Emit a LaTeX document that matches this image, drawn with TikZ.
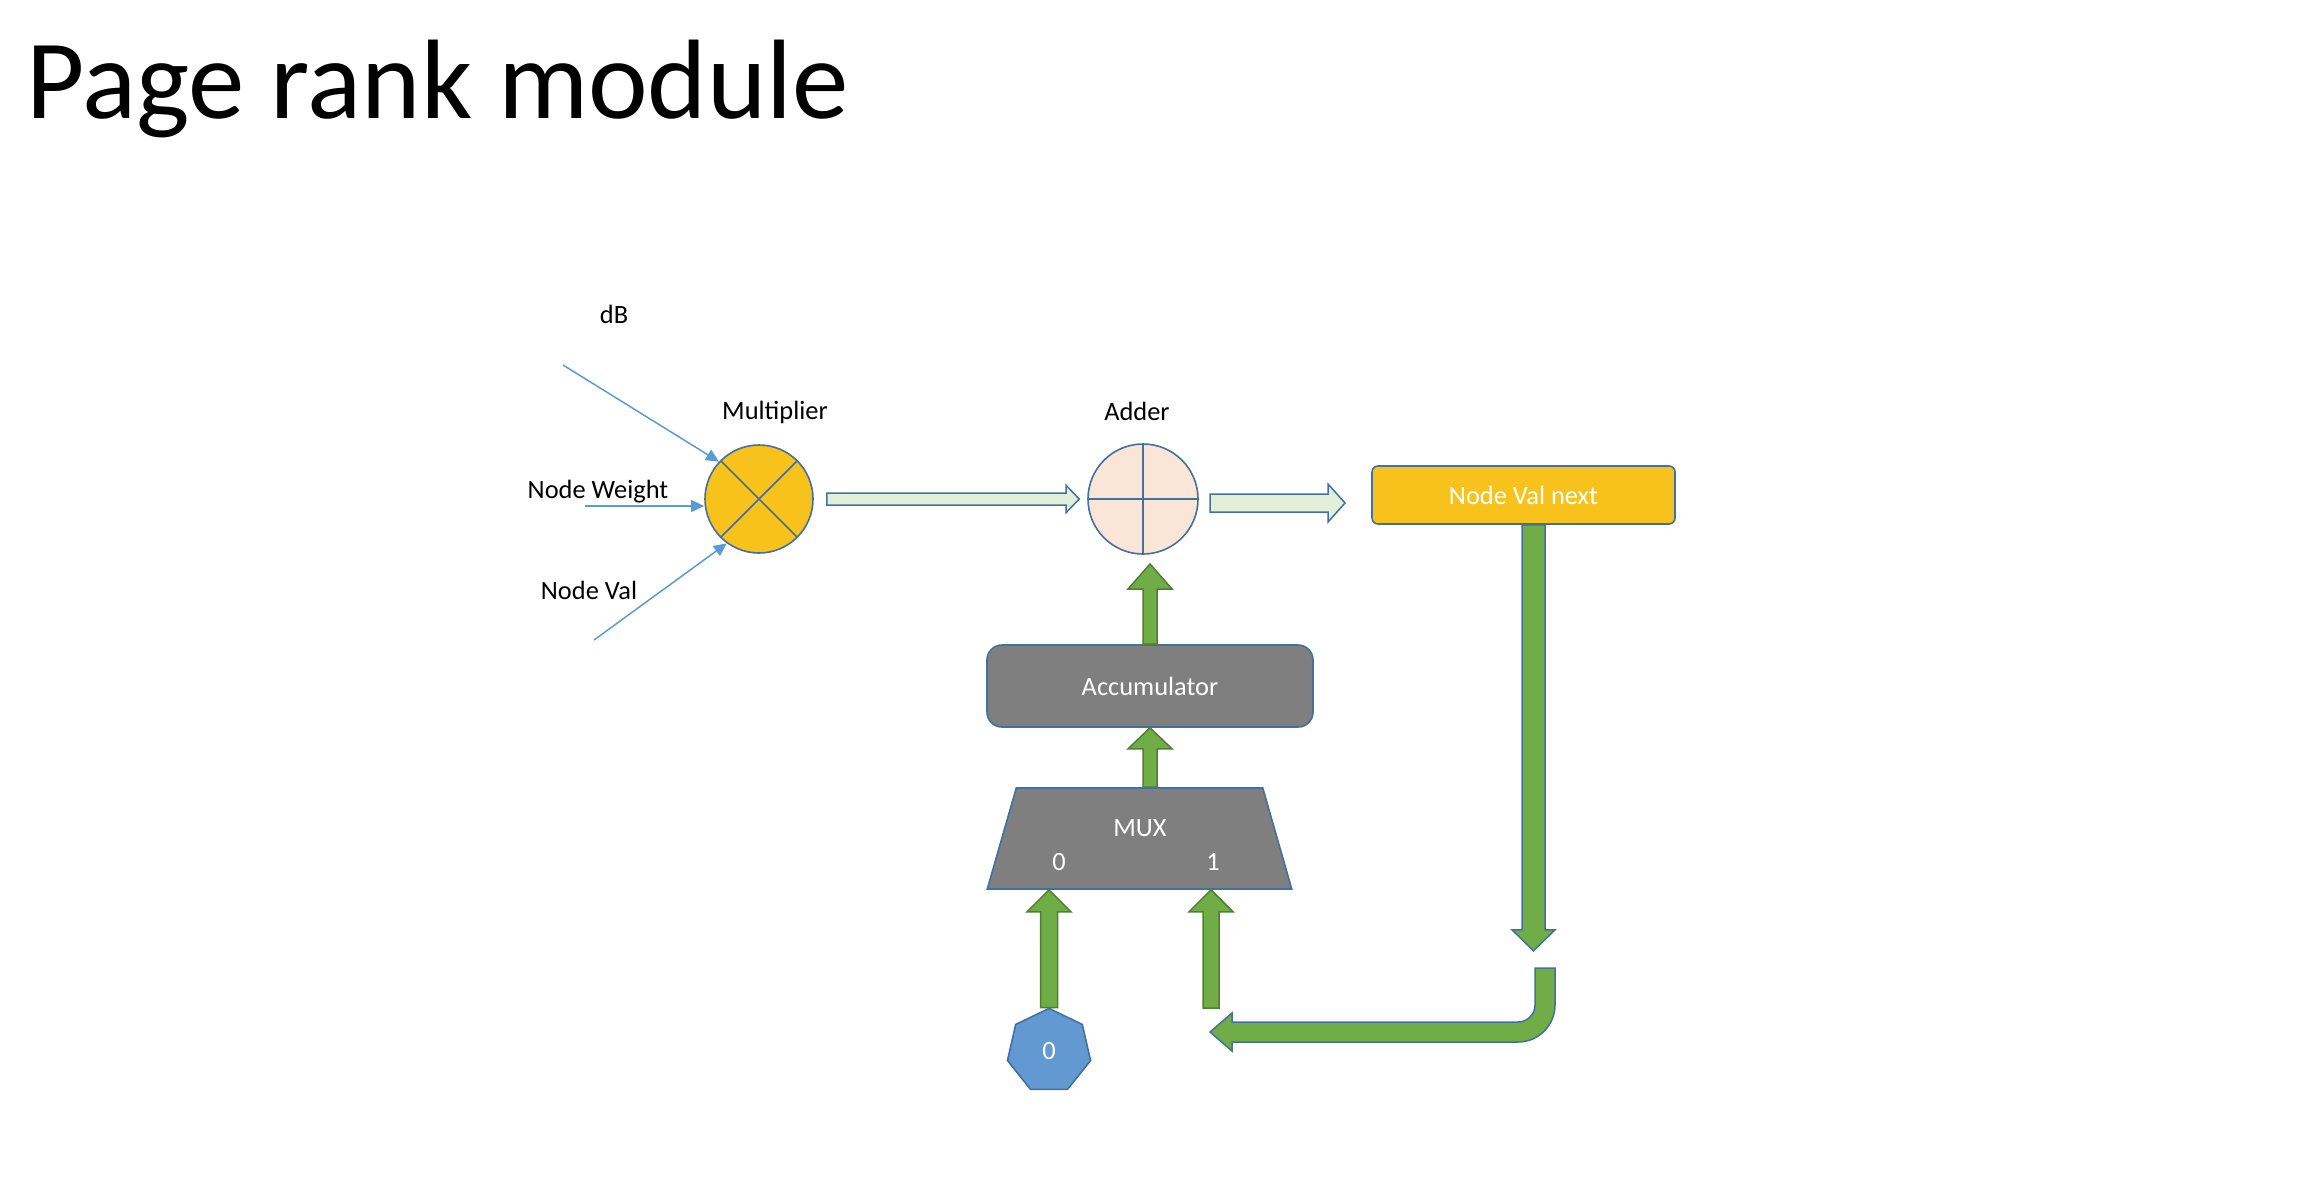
\documentclass[tikz,border=0pt]{standalone}
\usepackage{fontspec}
\setmainfont{Carlito}
\usetikzlibrary{shapes.geometric,arrows.meta,calc}
\definecolor{gold}{HTML}{F8C21C}
\definecolor{peach}{HTML}{FBE5D6}
\definecolor{mint}{HTML}{E2F0D9}
\definecolor{leaf}{HTML}{70AD47}
\definecolor{leafdark}{HTML}{507E32}
\definecolor{edge}{HTML}{41719C}
\definecolor{sky}{HTML}{6399D2}
\definecolor{wireblue}{HTML}{5B9BD5}
\definecolor{slate}{HTML}{7F7F7F}
% #1 style, #2 from, #3 to, #4 half shaft, #5 half head, #6 head length
\newcommand{\blockarrow}[6]{%
  \coordinate (ba) at ($(#3)!#6!(#2)$);
  \draw[#1] ($(#2)!#4!90:(#3)$) -- ($(ba)!#4!90:(#3)$) -- ($(ba)!#5!90:(#3)$) -- (#3)
    -- ($(ba)!#5!-90:(#3)$) -- ($(ba)!#4!-90:(#3)$) -- ($(#2)!#4!-90:(#3)$) -- cycle;
}
\begin{document}
\begin{tikzpicture}[x=0.5pt, y=-0.5pt,
    lbl/.style = {font=\fontsize{13.2}{15}\selectfont, inner sep=0, anchor=base},
    ring/.style = {draw=edge, line width=0.8pt, circle, inner sep=0},
    box/.style = {draw=edge, line width=0.8pt, fill=slate, text=white, font=\fontsize{13.2}{15}\selectfont},
    wire/.style = {draw=wireblue, line width=0.75pt, -{Triangle[length=6.5pt,width=6pt]}},
    hollow/.style = {draw=edge, line width=0.75pt, fill=mint},
    fat/.style = {draw=leafdark, line width=0.75pt, fill=leaf},
    fatb/.style = {draw=edge, line width=0.75pt, fill=leaf}]
  \useasboundingbox (0,0) rectangle (2310,1190);

  \node[font=\fontsize{56.5}{60}\selectfont, inner sep=0, anchor=base west] (title) at (26,118) {Page rank module};

  \node[ring, fill=gold, minimum size=54pt] (mul) at (759,499) {};
  \node[ring, fill=peach, minimum size=55pt] (add) at (1143,499) {};
  \draw[edge, line width=0.8pt] (mul.north west) -- (mul.south east) (mul.north east) -- (mul.south west);
  \draw[edge, line width=0.8pt] (add.north) -- (add.south) (add.west) -- (add.east);
  \node[box, fill=gold, rounded corners=3pt, minimum width=151.5pt, minimum height=29pt] (next) at (1523.5,495) {Node Val next};
  \node[box, rounded corners=7.5pt, minimum width=163pt, minimum height=41pt] (acc) at (1150,686) {Accumulator};
  \node[box, trapezium, trapezium left angle=75.6, trapezium right angle=75.6, trapezium stretches=true,
    minimum width=152.5pt, minimum height=50.5pt] (mux) at (1139.5,838.5) {\phantom{MUX}};
  \node[regular polygon, regular polygon sides=7, draw=edge, fill=sky, line width=0.8pt, minimum size=42.6pt,
    inner sep=0, text=white, font=\fontsize{13.2}{15}\selectfont] (zero) at (1049,1051) {0};

  \node[lbl] (dB) at (614,323) {dB};
  \node[lbl] (nw) at (598,498) {Node Weight};
  \node[lbl] (nv) at (589,599) {Node Val};
  \node[lbl] (mullbl) at (775,419) {Multiplier};
  \node[lbl] (addlbl) at (1137,420) {Adder};
  \node[lbl, text=white] (muxlbl) at (1140,836) {MUX};
  \node[lbl, text=white] (sel0) at (1059,870) {0};
  \node[lbl, text=white] (sel1) at (1213,870) {1};

  \coordinate (dBin) at (563,365);
  \coordinate (nwin) at (585,506);
  \coordinate (nvin) at (594,640);
  \draw[wire] (dBin) -- (mul.137);
  \draw[wire] (nwin) -- (nwin -| mul.west);
  \draw[wire] (nvin) -- (mul.234);

  \coordinate (h0) at ($(mul.east)+(13,0)$);
  \coordinate (h1) at ($(add.west)+(-8,0)$);
  \blockarrow{hollow}{h0}{h1}{3pt}{6.75pt}{6.5pt}
  \coordinate (h2) at (1210,503);
  \coordinate (h3) at (1345,503);
  \blockarrow{hollow}{h2}{h3}{4.5pt}{9.5pt}{8.5pt}

  \coordinate (t1) at (1150,564);
  \blockarrow{fat}{acc.north}{t1}{3.5pt}{11pt}{12.5pt}
  \coordinate (m0) at (acc.south |- mux.north);
  \blockarrow{fat}{m0}{acc.south}{3.5pt}{11pt}{10.5pt}
  \coordinate (i0) at (zero.north |- mux.south);
  \blockarrow{fat}{zero.north}{i0}{4.25pt}{11pt}{11pt}
  \coordinate (i1s) at (1211,1008);
  \coordinate (i1) at (i1s |- mux.south);
  \blockarrow{fat}{i1s}{i1}{4pt}{11pt}{11pt}
  \coordinate (d0) at ($(next.south)+(10,0)$);
  \coordinate (d1) at ($(d0)+(0,426)$);
  \blockarrow{fatb}{d0}{d1}{5.75pt}{10.75pt}{10.5pt}

  \draw[fatb] (1535,968) -- (1555,968) -- (1555,1005) arc[start angle=0, end angle=-90, radius=18.5pt]
    -- (1232,1042) -- (1232,1051) -- (1210,1032) -- (1232,1013) -- (1232,1022) -- (1518,1022)
    arc[start angle=-90, end angle=0, radius=8.5pt] -- cycle;
\end{tikzpicture}
\end{document}
